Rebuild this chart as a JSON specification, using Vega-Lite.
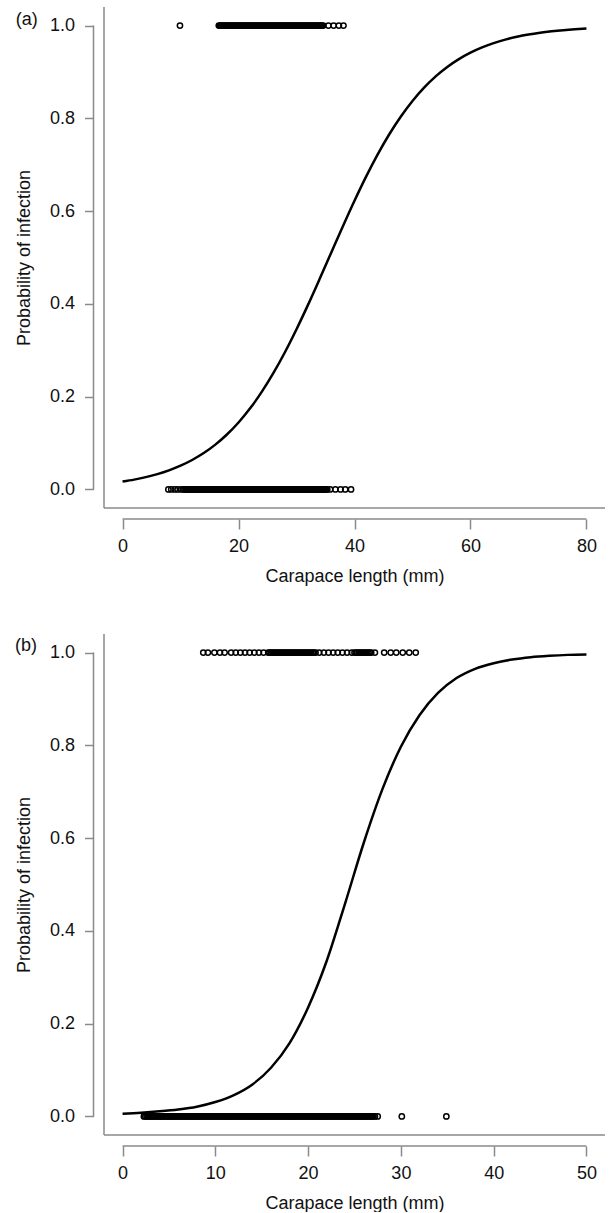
{
  "$schema": "https://vega.github.io/schema/vega-lite/v6.json",
  "padding": {"left": 14, "top": 6, "right": 0, "bottom": 0},
  "spacing": 48,
  "config": {
    "view": {"stroke": null},
    "font": "Liberation Sans",
    "axis": {"grid": false, "domain": false, "tickColor": "#8a8a8a", "tickWidth": 1.5, "labelFontSize": 18, "labelColor": "#111", "titleFontSize": 18, "titleFontWeight": "normal", "titleColor": "#111"},
    "axisX": {"offset": 11, "tickSize": 10, "labelPadding": 8, "titlePadding": 12, "format": "d"},
    "axisY": {"offset": 10.5, "tickSize": 9, "labelPadding": 10, "titlePadding": 16, "format": ".1f"}
  },
  "datasets": {
    "curveA": [
      {"length":0,"p":0.017},{"length":2,"p":0.0212},{"length":4,"p":0.0265},{"length":6,"p":0.0331},{"length":8,"p":0.0412},{"length":10,"p":0.0512},{"length":12,"p":0.0635},{"length":14,"p":0.0784},{"length":16,"p":0.0966},{"length":18,"p":0.1184},{"length":20,"p":0.1443},{"length":22,"p":0.1748},{"length":24,"p":0.2102},{"length":26,"p":0.2505},{"length":28,"p":0.2957},{"length":30,"p":0.3453},{"length":32,"p":0.3984},{"length":34,"p":0.4541},{"length":36,"p":0.511},{"length":38,"p":0.5676},{"length":40,"p":0.6225},{"length":42,"p":0.6744},{"length":44,"p":0.7223},{"length":46,"p":0.7657},{"length":48,"p":0.804},{"length":50,"p":0.8375},{"length":52,"p":0.8662},{"length":54,"p":0.8905},{"length":56,"p":0.9108},{"length":58,"p":0.9277},{"length":60,"p":0.9416},{"length":62,"p":0.9529},{"length":64,"p":0.9622},{"length":66,"p":0.9697},{"length":68,"p":0.9757},{"length":70,"p":0.9806},{"length":72,"p":0.9845},{"length":74,"p":0.9876},{"length":76,"p":0.9901},{"length":78,"p":0.9921},{"length":80,"p":0.9937}
    ],
    "curveB": [
      {"length":0,"p":0.006},{"length":2,"p":0.008},{"length":4,"p":0.011},{"length":6,"p":0.015},{"length":8,"p":0.021},{"length":10,"p":0.031},{"length":12,"p":0.046},{"length":14,"p":0.069},{"length":16,"p":0.105},{"length":18,"p":0.158},{"length":20,"p":0.235},{"length":22,"p":0.335},{"length":24,"p":0.46},{"length":26,"p":0.59},{"length":28,"p":0.705},{"length":30,"p":0.797},{"length":32,"p":0.865},{"length":34,"p":0.913},{"length":36,"p":0.945},{"length":38,"p":0.965},{"length":40,"p":0.977},{"length":42,"p":0.985},{"length":44,"p":0.99},{"length":46,"p":0.993},{"length":48,"p":0.995},{"length":50,"p":0.996}
    ],
    "pointsA": [
      {"length":9.9,"infected":1},
      {"length":16.6,"infected":1},{"length":16.8,"infected":1},{"length":17,"infected":1},{"length":17.2,"infected":1},{"length":17.4,"infected":1},{"length":17.6,"infected":1},{"length":17.8,"infected":1},{"length":18,"infected":1},{"length":18.2,"infected":1},{"length":18.4,"infected":1},{"length":18.6,"infected":1},{"length":18.8,"infected":1},{"length":19,"infected":1},{"length":19.2,"infected":1},{"length":19.4,"infected":1},{"length":19.6,"infected":1},{"length":19.8,"infected":1},{"length":20,"infected":1},{"length":20.2,"infected":1},{"length":20.4,"infected":1},{"length":20.6,"infected":1},{"length":20.8,"infected":1},{"length":21,"infected":1},{"length":21.2,"infected":1},{"length":21.4,"infected":1},{"length":21.6,"infected":1},{"length":21.8,"infected":1},{"length":22,"infected":1},{"length":22.2,"infected":1},{"length":22.4,"infected":1},{"length":22.6,"infected":1},{"length":22.8,"infected":1},{"length":23,"infected":1},{"length":23.2,"infected":1},{"length":23.4,"infected":1},{"length":23.6,"infected":1},{"length":23.8,"infected":1},{"length":24,"infected":1},{"length":24.2,"infected":1},{"length":24.4,"infected":1},{"length":24.6,"infected":1},{"length":24.8,"infected":1},{"length":25,"infected":1},{"length":25.2,"infected":1},{"length":25.4,"infected":1},{"length":25.6,"infected":1},{"length":25.8,"infected":1},{"length":26,"infected":1},{"length":26.2,"infected":1},{"length":26.4,"infected":1},{"length":26.6,"infected":1},{"length":26.8,"infected":1},{"length":27,"infected":1},{"length":27.2,"infected":1},{"length":27.4,"infected":1},{"length":27.6,"infected":1},{"length":27.8,"infected":1},{"length":28,"infected":1},{"length":28.2,"infected":1},{"length":28.4,"infected":1},{"length":28.6,"infected":1},{"length":28.8,"infected":1},{"length":29,"infected":1},{"length":29.2,"infected":1},{"length":29.4,"infected":1},{"length":29.6,"infected":1},{"length":29.8,"infected":1},{"length":30,"infected":1},{"length":30.2,"infected":1},{"length":30.4,"infected":1},{"length":30.6,"infected":1},{"length":30.8,"infected":1},{"length":31,"infected":1},{"length":31.2,"infected":1},{"length":31.4,"infected":1},{"length":31.6,"infected":1},{"length":31.8,"infected":1},{"length":32,"infected":1},{"length":32.2,"infected":1},{"length":32.4,"infected":1},{"length":32.6,"infected":1},{"length":32.8,"infected":1},{"length":33,"infected":1},{"length":33.2,"infected":1},{"length":33.4,"infected":1},{"length":33.6,"infected":1},{"length":33.8,"infected":1},{"length":34,"infected":1},{"length":34.2,"infected":1},{"length":34.4,"infected":1},{"length":34.6,"infected":1},
      {"length":35.5,"infected":1},{"length":36.4,"infected":1},{"length":37.3,"infected":1},{"length":38.1,"infected":1},
      {"length":7.9,"infected":0},{"length":8.4,"infected":0},{"length":9,"infected":0},{"length":9.5,"infected":0},{"length":10.1,"infected":0},
      {"length":10.5,"infected":0},{"length":10.7,"infected":0},{"length":10.9,"infected":0},{"length":11.1,"infected":0},{"length":11.3,"infected":0},{"length":11.5,"infected":0},{"length":11.7,"infected":0},{"length":11.9,"infected":0},{"length":12.1,"infected":0},{"length":12.3,"infected":0},{"length":12.5,"infected":0},{"length":12.7,"infected":0},{"length":12.9,"infected":0},{"length":13.1,"infected":0},{"length":13.3,"infected":0},{"length":13.5,"infected":0},{"length":13.7,"infected":0},{"length":13.9,"infected":0},{"length":14.1,"infected":0},{"length":14.3,"infected":0},{"length":14.5,"infected":0},{"length":14.7,"infected":0},{"length":14.9,"infected":0},{"length":15.1,"infected":0},{"length":15.3,"infected":0},{"length":15.5,"infected":0},{"length":15.7,"infected":0},{"length":15.9,"infected":0},{"length":16.1,"infected":0},{"length":16.3,"infected":0},{"length":16.5,"infected":0},{"length":16.7,"infected":0},{"length":16.9,"infected":0},{"length":17.1,"infected":0},{"length":17.3,"infected":0},{"length":17.5,"infected":0},{"length":17.7,"infected":0},{"length":17.9,"infected":0},{"length":18.1,"infected":0},{"length":18.3,"infected":0},{"length":18.5,"infected":0},{"length":18.7,"infected":0},{"length":18.9,"infected":0},{"length":19.1,"infected":0},{"length":19.3,"infected":0},{"length":19.5,"infected":0},{"length":19.7,"infected":0},{"length":19.9,"infected":0},{"length":20.1,"infected":0},{"length":20.3,"infected":0},{"length":20.5,"infected":0},{"length":20.7,"infected":0},{"length":20.9,"infected":0},{"length":21.1,"infected":0},{"length":21.3,"infected":0},{"length":21.5,"infected":0},{"length":21.7,"infected":0},{"length":21.9,"infected":0},{"length":22.1,"infected":0},{"length":22.3,"infected":0},{"length":22.5,"infected":0},{"length":22.7,"infected":0},{"length":22.9,"infected":0},{"length":23.1,"infected":0},{"length":23.3,"infected":0},{"length":23.5,"infected":0},{"length":23.7,"infected":0},{"length":23.9,"infected":0},{"length":24.1,"infected":0},{"length":24.3,"infected":0},{"length":24.5,"infected":0},{"length":24.7,"infected":0},{"length":24.9,"infected":0},{"length":25.1,"infected":0},{"length":25.3,"infected":0},{"length":25.5,"infected":0},{"length":25.7,"infected":0},{"length":25.9,"infected":0},{"length":26.1,"infected":0},{"length":26.3,"infected":0},{"length":26.5,"infected":0},{"length":26.7,"infected":0},{"length":26.9,"infected":0},{"length":27.1,"infected":0},{"length":27.3,"infected":0},{"length":27.5,"infected":0},{"length":27.7,"infected":0},{"length":27.9,"infected":0},{"length":28.1,"infected":0},{"length":28.3,"infected":0},{"length":28.5,"infected":0},{"length":28.7,"infected":0},{"length":28.9,"infected":0},{"length":29.1,"infected":0},{"length":29.3,"infected":0},{"length":29.5,"infected":0},{"length":29.7,"infected":0},{"length":29.9,"infected":0},{"length":30.1,"infected":0},{"length":30.3,"infected":0},{"length":30.5,"infected":0},{"length":30.7,"infected":0},{"length":30.9,"infected":0},{"length":31.1,"infected":0},{"length":31.3,"infected":0},{"length":31.5,"infected":0},{"length":31.7,"infected":0},{"length":31.9,"infected":0},{"length":32.1,"infected":0},{"length":32.3,"infected":0},{"length":32.5,"infected":0},{"length":32.7,"infected":0},{"length":32.9,"infected":0},{"length":33.1,"infected":0},{"length":33.3,"infected":0},{"length":33.5,"infected":0},{"length":33.7,"infected":0},{"length":33.9,"infected":0},{"length":34.1,"infected":0},{"length":34.3,"infected":0},{"length":34.5,"infected":0},{"length":34.7,"infected":0},{"length":34.9,"infected":0},{"length":35.1,"infected":0},{"length":35.3,"infected":0},
      {"length":35.8,"infected":0},{"length":36.7,"infected":0},{"length":37.6,"infected":0},{"length":38.4,"infected":0},{"length":39.4,"infected":0}
    ],
    "pointsB": [
      {"length":8.7,"infected":1},{"length":9.2,"infected":1},{"length":9.9,"infected":1},{"length":10.5,"infected":1},{"length":11,"infected":1},{"length":11.7,"infected":1},{"length":12.2,"infected":1},{"length":12.7,"infected":1},{"length":13.2,"infected":1},{"length":13.7,"infected":1},{"length":14.2,"infected":1},{"length":14.7,"infected":1},{"length":15.2,"infected":1},
      {"length":15.7,"infected":1},{"length":15.85,"infected":1},{"length":16,"infected":1},{"length":16.15,"infected":1},{"length":16.3,"infected":1},{"length":16.45,"infected":1},{"length":16.6,"infected":1},{"length":16.75,"infected":1},{"length":16.9,"infected":1},{"length":17.05,"infected":1},{"length":17.2,"infected":1},{"length":17.35,"infected":1},{"length":17.5,"infected":1},{"length":17.65,"infected":1},{"length":17.8,"infected":1},{"length":17.95,"infected":1},{"length":18.1,"infected":1},{"length":18.25,"infected":1},{"length":18.4,"infected":1},{"length":18.55,"infected":1},{"length":18.7,"infected":1},{"length":18.85,"infected":1},{"length":19,"infected":1},{"length":19.15,"infected":1},{"length":19.3,"infected":1},{"length":19.45,"infected":1},{"length":19.6,"infected":1},{"length":19.75,"infected":1},{"length":19.9,"infected":1},{"length":20.05,"infected":1},{"length":20.2,"infected":1},{"length":20.35,"infected":1},{"length":20.5,"infected":1},{"length":20.65,"infected":1},{"length":20.8,"infected":1},
      {"length":21.2,"infected":1},{"length":21.7,"infected":1},{"length":22.2,"infected":1},{"length":22.7,"infected":1},{"length":23.2,"infected":1},{"length":23.7,"infected":1},{"length":24.2,"infected":1},{"length":24.7,"infected":1},
      {"length":25,"infected":1},{"length":25.15,"infected":1},{"length":25.3,"infected":1},{"length":25.45,"infected":1},{"length":25.6,"infected":1},{"length":25.75,"infected":1},{"length":25.9,"infected":1},{"length":26.05,"infected":1},{"length":26.2,"infected":1},{"length":26.35,"infected":1},{"length":26.5,"infected":1},{"length":26.65,"infected":1},{"length":26.8,"infected":1},{"length":27.2,"infected":1},
      {"length":28.2,"infected":1},{"length":28.9,"infected":1},{"length":29.5,"infected":1},{"length":30.2,"infected":1},{"length":30.9,"infected":1},{"length":31.6,"infected":1},
      {"length":2.3,"infected":0},{"length":2.45,"infected":0},{"length":2.6,"infected":0},{"length":2.75,"infected":0},{"length":2.9,"infected":0},{"length":3.05,"infected":0},{"length":3.2,"infected":0},{"length":3.35,"infected":0},{"length":3.5,"infected":0},{"length":3.65,"infected":0},{"length":3.8,"infected":0},{"length":3.95,"infected":0},{"length":4.1,"infected":0},{"length":4.25,"infected":0},{"length":4.4,"infected":0},{"length":4.55,"infected":0},{"length":4.7,"infected":0},{"length":4.85,"infected":0},{"length":5,"infected":0},{"length":5.15,"infected":0},{"length":5.3,"infected":0},{"length":5.45,"infected":0},{"length":5.6,"infected":0},{"length":5.75,"infected":0},{"length":5.9,"infected":0},{"length":6.05,"infected":0},{"length":6.2,"infected":0},{"length":6.35,"infected":0},{"length":6.5,"infected":0},{"length":6.65,"infected":0},{"length":6.8,"infected":0},{"length":6.95,"infected":0},{"length":7.1,"infected":0},{"length":7.25,"infected":0},{"length":7.4,"infected":0},{"length":7.55,"infected":0},{"length":7.7,"infected":0},{"length":7.85,"infected":0},{"length":8,"infected":0},{"length":8.15,"infected":0},{"length":8.3,"infected":0},{"length":8.45,"infected":0},{"length":8.6,"infected":0},{"length":8.75,"infected":0},{"length":8.9,"infected":0},{"length":9.05,"infected":0},{"length":9.2,"infected":0},{"length":9.35,"infected":0},{"length":9.5,"infected":0},{"length":9.65,"infected":0},{"length":9.8,"infected":0},{"length":9.95,"infected":0},{"length":10.1,"infected":0},{"length":10.25,"infected":0},{"length":10.4,"infected":0},{"length":10.55,"infected":0},{"length":10.7,"infected":0},{"length":10.85,"infected":0},{"length":11,"infected":0},{"length":11.15,"infected":0},{"length":11.3,"infected":0},{"length":11.45,"infected":0},{"length":11.6,"infected":0},{"length":11.75,"infected":0},{"length":11.9,"infected":0},{"length":12.05,"infected":0},{"length":12.2,"infected":0},{"length":12.35,"infected":0},{"length":12.5,"infected":0},{"length":12.65,"infected":0},{"length":12.8,"infected":0},{"length":12.95,"infected":0},{"length":13.1,"infected":0},{"length":13.25,"infected":0},{"length":13.4,"infected":0},{"length":13.55,"infected":0},{"length":13.7,"infected":0},{"length":13.85,"infected":0},{"length":14,"infected":0},{"length":14.15,"infected":0},{"length":14.3,"infected":0},{"length":14.45,"infected":0},{"length":14.6,"infected":0},{"length":14.75,"infected":0},{"length":14.9,"infected":0},{"length":15.05,"infected":0},{"length":15.2,"infected":0},{"length":15.35,"infected":0},{"length":15.5,"infected":0},{"length":15.65,"infected":0},{"length":15.8,"infected":0},{"length":15.95,"infected":0},{"length":16.1,"infected":0},{"length":16.25,"infected":0},{"length":16.4,"infected":0},{"length":16.55,"infected":0},{"length":16.7,"infected":0},{"length":16.85,"infected":0},{"length":17,"infected":0},{"length":17.15,"infected":0},{"length":17.3,"infected":0},{"length":17.45,"infected":0},{"length":17.6,"infected":0},{"length":17.75,"infected":0},{"length":17.9,"infected":0},{"length":18.05,"infected":0},{"length":18.2,"infected":0},{"length":18.35,"infected":0},{"length":18.5,"infected":0},{"length":18.65,"infected":0},{"length":18.8,"infected":0},{"length":18.95,"infected":0},{"length":19.1,"infected":0},{"length":19.25,"infected":0},{"length":19.4,"infected":0},{"length":19.55,"infected":0},{"length":19.7,"infected":0},{"length":19.85,"infected":0},{"length":20,"infected":0},{"length":20.15,"infected":0},{"length":20.3,"infected":0},{"length":20.45,"infected":0},{"length":20.6,"infected":0},{"length":20.75,"infected":0},{"length":20.9,"infected":0},{"length":21.05,"infected":0},{"length":21.2,"infected":0},{"length":21.35,"infected":0},{"length":21.5,"infected":0},{"length":21.65,"infected":0},{"length":21.8,"infected":0},{"length":21.95,"infected":0},{"length":22.1,"infected":0},{"length":22.25,"infected":0},{"length":22.4,"infected":0},{"length":22.55,"infected":0},{"length":22.7,"infected":0},{"length":22.85,"infected":0},{"length":23,"infected":0},{"length":23.15,"infected":0},{"length":23.3,"infected":0},{"length":23.45,"infected":0},{"length":23.6,"infected":0},{"length":23.75,"infected":0},{"length":23.9,"infected":0},{"length":24.05,"infected":0},{"length":24.2,"infected":0},{"length":24.35,"infected":0},{"length":24.5,"infected":0},{"length":24.65,"infected":0},{"length":24.8,"infected":0},{"length":24.95,"infected":0},{"length":25.1,"infected":0},{"length":25.25,"infected":0},{"length":25.4,"infected":0},{"length":25.55,"infected":0},{"length":25.7,"infected":0},{"length":25.85,"infected":0},{"length":26,"infected":0},{"length":26.15,"infected":0},{"length":26.3,"infected":0},{"length":26.45,"infected":0},{"length":26.6,"infected":0},{"length":26.75,"infected":0},{"length":26.9,"infected":0},{"length":27.05,"infected":0},{"length":27.2,"infected":0},{"length":27.5,"infected":0},
      {"length":30.1,"infected":0},{"length":34.9,"infected":0}
    ]
  },
  "vconcat": [
    {
      "width": 501,
      "height": 501,
      "layer": [
        {
          "data": {"values": [{}]},
          "mark": {"type": "rule", "color": "#8a8a8a", "strokeWidth": 1.5},
          "encoding": {
            "x": {"datum": -3.2, "type": "quantitative", "scale": {"domain": [-3.2, 83.2], "nice": false, "zero": false}, "axis": {"values": [0, 20, 40, 60, 80], "title": "Carapace length (mm)"}},
            "y": {"datum": -0.04, "type": "quantitative", "scale": {"domain": [-0.04, 1.04], "nice": false, "zero": false}, "axis": {"values": [0, 0.2, 0.4, 0.6, 0.8, 1], "title": "Probability of infection"}},
            "y2": {"datum": 1.04}
          }
        },
        {
          "data": {"values": [{}]},
          "mark": {"type": "rule", "color": "#8a8a8a", "strokeWidth": 1.5},
          "encoding": {
            "x": {"datum": -3.2, "type": "quantitative", "scale": {"domain": [-3.2, 83.2], "nice": false, "zero": false}, "axis": {"values": [0, 20, 40, 60, 80], "title": "Carapace length (mm)"}},
            "x2": {"datum": 83.2},
            "y": {"datum": -0.04, "type": "quantitative", "scale": {"domain": [-0.04, 1.04], "nice": false, "zero": false}, "axis": {"values": [0, 0.2, 0.4, 0.6, 0.8, 1], "title": "Probability of infection"}}
          }
        },
        {
          "data": {"values": [{}]},
          "mark": {"type": "rule", "color": "#8a8a8a", "strokeWidth": 1.5},
          "encoding": {
            "x": {"datum": 0, "type": "quantitative", "scale": {"domain": [-3.2, 83.2], "nice": false, "zero": false}, "axis": {"values": [0, 20, 40, 60, 80], "title": "Carapace length (mm)"}},
            "x2": {"datum": 80},
            "y": {"datum": -0.0637, "type": "quantitative", "scale": {"domain": [-0.04, 1.04], "nice": false, "zero": false}, "axis": {"values": [0, 0.2, 0.4, 0.6, 0.8, 1], "title": "Probability of infection"}}
          }
        },
        {
          "data": {"values": [{}]},
          "mark": {"type": "rule", "color": "#8a8a8a", "strokeWidth": 1.5},
          "encoding": {
            "x": {"datum": -5.01, "type": "quantitative", "scale": {"domain": [-3.2, 83.2], "nice": false, "zero": false}, "axis": {"values": [0, 20, 40, 60, 80], "title": "Carapace length (mm)"}},
            "y": {"datum": 0, "type": "quantitative", "scale": {"domain": [-0.04, 1.04], "nice": false, "zero": false}, "axis": {"values": [0, 0.2, 0.4, 0.6, 0.8, 1], "title": "Probability of infection"}},
            "y2": {"datum": 1}
          }
        },
        {
          "data": {"values": [{}]},
          "mark": {"type": "text", "text": "(a)", "align": "left", "baseline": "middle", "fontSize": 18, "color": "#111"},
          "encoding": {
            "x": {"datum": -18.4, "type": "quantitative", "scale": {"domain": [-3.2, 83.2], "nice": false, "zero": false}, "axis": {"values": [0, 20, 40, 60, 80], "title": "Carapace length (mm)"}},
            "y": {"datum": 1.012, "type": "quantitative", "scale": {"domain": [-0.04, 1.04], "nice": false, "zero": false}, "axis": {"values": [0, 0.2, 0.4, 0.6, 0.8, 1], "title": "Probability of infection"}}
          }
        },
        {
          "data": {"name": "curveA"},
          "mark": {"type": "line", "color": "#000", "strokeWidth": 2.5, "interpolate": "monotone"},
          "encoding": {
            "x": {"field": "length", "type": "quantitative", "scale": {"domain": [-3.2, 83.2], "nice": false, "zero": false}, "axis": {"values": [0, 20, 40, 60, 80], "title": "Carapace length (mm)"}},
            "y": {"field": "p", "type": "quantitative", "scale": {"domain": [-0.04, 1.04], "nice": false, "zero": false}, "axis": {"values": [0, 0.2, 0.4, 0.6, 0.8, 1], "title": "Probability of infection"}}
          }
        },
        {
          "data": {"name": "pointsA"},
          "mark": {"type": "point", "shape": "circle", "filled": false, "color": "#000", "strokeWidth": 1.5, "size": 28, "opacity": 1},
          "encoding": {
            "x": {"field": "length", "type": "quantitative", "scale": {"domain": [-3.2, 83.2], "nice": false, "zero": false}, "axis": {"values": [0, 20, 40, 60, 80], "title": "Carapace length (mm)"}},
            "y": {"field": "infected", "type": "quantitative", "scale": {"domain": [-0.04, 1.04], "nice": false, "zero": false}, "axis": {"values": [0, 0.2, 0.4, 0.6, 0.8, 1], "title": "Probability of infection"}}
          }
        }
      ]
    },
    {
      "width": 501,
      "height": 501,
      "layer": [
        {
          "data": {"values": [{}]},
          "mark": {"type": "rule", "color": "#8a8a8a", "strokeWidth": 1.5},
          "encoding": {
            "x": {"datum": -2, "type": "quantitative", "scale": {"domain": [-2, 52], "nice": false, "zero": false}, "axis": {"values": [0, 10, 20, 30, 40, 50], "title": "Carapace length (mm)"}},
            "y": {"datum": -0.04, "type": "quantitative", "scale": {"domain": [-0.04, 1.04], "nice": false, "zero": false}, "axis": {"values": [0, 0.2, 0.4, 0.6, 0.8, 1], "title": "Probability of infection"}},
            "y2": {"datum": 1.04}
          }
        },
        {
          "data": {"values": [{}]},
          "mark": {"type": "rule", "color": "#8a8a8a", "strokeWidth": 1.5},
          "encoding": {
            "x": {"datum": -2, "type": "quantitative", "scale": {"domain": [-2, 52], "nice": false, "zero": false}, "axis": {"values": [0, 10, 20, 30, 40, 50], "title": "Carapace length (mm)"}},
            "x2": {"datum": 52},
            "y": {"datum": -0.04, "type": "quantitative", "scale": {"domain": [-0.04, 1.04], "nice": false, "zero": false}, "axis": {"values": [0, 0.2, 0.4, 0.6, 0.8, 1], "title": "Probability of infection"}}
          }
        },
        {
          "data": {"values": [{}]},
          "mark": {"type": "rule", "color": "#8a8a8a", "strokeWidth": 1.5},
          "encoding": {
            "x": {"datum": 0, "type": "quantitative", "scale": {"domain": [-2, 52], "nice": false, "zero": false}, "axis": {"values": [0, 10, 20, 30, 40, 50], "title": "Carapace length (mm)"}},
            "x2": {"datum": 50},
            "y": {"datum": -0.0637, "type": "quantitative", "scale": {"domain": [-0.04, 1.04], "nice": false, "zero": false}, "axis": {"values": [0, 0.2, 0.4, 0.6, 0.8, 1], "title": "Probability of infection"}}
          }
        },
        {
          "data": {"values": [{}]},
          "mark": {"type": "rule", "color": "#8a8a8a", "strokeWidth": 1.5},
          "encoding": {
            "x": {"datum": -3.13, "type": "quantitative", "scale": {"domain": [-2, 52], "nice": false, "zero": false}, "axis": {"values": [0, 10, 20, 30, 40, 50], "title": "Carapace length (mm)"}},
            "y": {"datum": 0, "type": "quantitative", "scale": {"domain": [-0.04, 1.04], "nice": false, "zero": false}, "axis": {"values": [0, 0.2, 0.4, 0.6, 0.8, 1], "title": "Probability of infection"}},
            "y2": {"datum": 1}
          }
        },
        {
          "data": {"values": [{}]},
          "mark": {"type": "text", "text": "(b)", "align": "left", "baseline": "middle", "fontSize": 18, "color": "#111"},
          "encoding": {
            "x": {"datum": -11.6, "type": "quantitative", "scale": {"domain": [-2, 52], "nice": false, "zero": false}, "axis": {"values": [0, 10, 20, 30, 40, 50], "title": "Carapace length (mm)"}},
            "y": {"datum": 1.014, "type": "quantitative", "scale": {"domain": [-0.04, 1.04], "nice": false, "zero": false}, "axis": {"values": [0, 0.2, 0.4, 0.6, 0.8, 1], "title": "Probability of infection"}}
          }
        },
        {
          "data": {"name": "curveB"},
          "mark": {"type": "line", "color": "#000", "strokeWidth": 2.5, "interpolate": "monotone"},
          "encoding": {
            "x": {"field": "length", "type": "quantitative", "scale": {"domain": [-2, 52], "nice": false, "zero": false}, "axis": {"values": [0, 10, 20, 30, 40, 50], "title": "Carapace length (mm)"}},
            "y": {"field": "p", "type": "quantitative", "scale": {"domain": [-0.04, 1.04], "nice": false, "zero": false}, "axis": {"values": [0, 0.2, 0.4, 0.6, 0.8, 1], "title": "Probability of infection"}}
          }
        },
        {
          "data": {"name": "pointsB"},
          "mark": {"type": "point", "shape": "circle", "filled": false, "color": "#000", "strokeWidth": 1.5, "size": 28, "opacity": 1},
          "encoding": {
            "x": {"field": "length", "type": "quantitative", "scale": {"domain": [-2, 52], "nice": false, "zero": false}, "axis": {"values": [0, 10, 20, 30, 40, 50], "title": "Carapace length (mm)"}},
            "y": {"field": "infected", "type": "quantitative", "scale": {"domain": [-0.04, 1.04], "nice": false, "zero": false}, "axis": {"values": [0, 0.2, 0.4, 0.6, 0.8, 1], "title": "Probability of infection"}}
          }
        }
      ]
    }
  ]
}
